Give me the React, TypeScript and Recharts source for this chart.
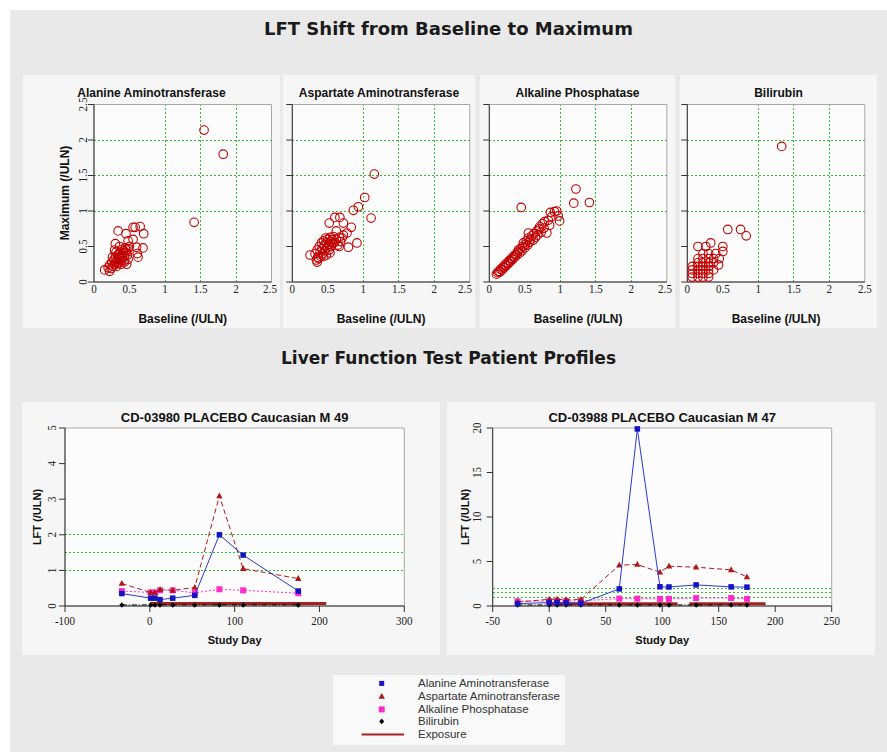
import React from 'react';
import {
  ScatterChart, Scatter, XAxis, YAxis, CartesianGrid, ReferenceLine, ReferenceArea,
} from 'recharts';

// ---------- LFT shift: [baseline, maximum] in /ULN ----------
const altShift = [
  [1.55, 2.14], [1.82, 1.8], [1.41, 0.84],
  [0.34, 0.72], [0.45, 0.68], [0.55, 0.77], [0.58, 0.77], [0.65, 0.78], [0.7, 0.68],
  [0.3, 0.54], [0.48, 0.58], [0.55, 0.6], [0.6, 0.49], [0.69, 0.48], [0.62, 0.35],
  [0.61, 0.4], [0.46, 0.25], [0.42, 0.3], [0.15, 0.17], [0.22, 0.15], [0.29, 0.45],
  [0.36, 0.5], [0.4, 0.46], [0.2, 0.2], [0.22, 0.24], [0.24, 0.19], [0.25, 0.28],
  [0.27, 0.22], [0.28, 0.31], [0.29, 0.25], [0.3, 0.35], [0.31, 0.28], [0.32, 0.22],
  [0.33, 0.32], [0.34, 0.38], [0.35, 0.27], [0.36, 0.34], [0.37, 0.42], [0.38, 0.3],
  [0.39, 0.37], [0.4, 0.33], [0.41, 0.4], [0.42, 0.44], [0.43, 0.36], [0.44, 0.48],
  [0.45, 0.41], [0.46, 0.45], [0.47, 0.38], [0.48, 0.47], [0.5, 0.5], [0.26, 0.35],
  [0.33, 0.26], [0.38, 0.25], [0.35, 0.4], [0.31, 0.42], [0.43, 0.28], [0.48, 0.32],
];
const astShift = [
  [1.155, 1.52], [1.02, 1.19], [0.93, 1.06], [0.86, 1.01], [1.11, 0.9],
  [0.6, 0.91], [0.67, 0.91], [0.52, 0.83], [0.72, 0.83], [0.83, 0.77], [0.77, 0.69],
  [0.91, 0.55], [0.79, 0.49], [0.66, 0.5], [0.25, 0.38], [0.34, 0.31], [0.35, 0.28],
  [0.7, 0.62], [0.62, 0.72], [0.32, 0.4], [0.35, 0.45], [0.36, 0.35], [0.38, 0.5],
  [0.39, 0.42], [0.4, 0.36], [0.41, 0.55], [0.42, 0.47], [0.43, 0.4], [0.44, 0.58],
  [0.45, 0.52], [0.46, 0.44], [0.47, 0.62], [0.48, 0.55], [0.49, 0.48], [0.5, 0.6],
  [0.51, 0.53], [0.52, 0.45], [0.53, 0.63], [0.54, 0.57], [0.55, 0.5], [0.56, 0.6],
  [0.57, 0.54], [0.58, 0.64], [0.6, 0.56], [0.62, 0.6], [0.64, 0.52], [0.66, 0.63],
  [0.68, 0.57], [0.72, 0.66], [0.44, 0.36], [0.48, 0.38], [0.37, 0.33], [0.53, 0.41],
];
const alpShift = [
  [0.45, 1.05], [1.22, 1.31], [1.19, 1.11], [1.41, 1.12],
  [0.1, 0.11], [0.12, 0.13], [0.13, 0.15], [0.15, 0.14], [0.16, 0.18], [0.18, 0.17],
  [0.19, 0.21], [0.21, 0.2], [0.22, 0.24], [0.24, 0.23], [0.25, 0.27], [0.27, 0.26],
  [0.28, 0.3], [0.3, 0.29], [0.31, 0.33], [0.33, 0.32], [0.34, 0.36], [0.36, 0.35],
  [0.37, 0.39], [0.39, 0.38], [0.4, 0.42], [0.41, 0.45], [0.43, 0.41], [0.44, 0.47],
  [0.46, 0.44], [0.47, 0.5], [0.48, 0.55], [0.5, 0.48], [0.51, 0.53], [0.52, 0.58],
  [0.54, 0.52], [0.55, 0.62], [0.55, 0.69], [0.57, 0.56], [0.58, 0.6], [0.6, 0.65],
  [0.62, 0.59], [0.63, 0.68], [0.65, 0.63], [0.67, 0.72], [0.68, 0.66], [0.7, 0.75],
  [0.71, 0.78], [0.73, 0.7], [0.75, 0.82], [0.77, 0.76], [0.78, 0.85], [0.81, 0.69],
  [0.83, 0.87], [0.85, 0.8], [0.86, 0.98], [0.88, 0.92], [0.92, 0.99], [0.95, 1.0],
  [0.99, 0.86], [0.97, 0.93],
];
const biliShift = [
  [0.57, 0.74], [0.75, 0.74], [0.83, 0.65], [1.33, 1.91],
  [0.07, 0.07], [0.07, 0.12], [0.07, 0.17], [0.07, 0.22], [0.15, 0.07], [0.15, 0.12],
  [0.15, 0.17], [0.15, 0.22], [0.15, 0.27], [0.15, 0.33], [0.22, 0.07], [0.22, 0.12],
  [0.22, 0.17], [0.22, 0.22], [0.22, 0.27], [0.22, 0.33], [0.22, 0.4], [0.3, 0.07],
  [0.3, 0.12], [0.3, 0.17], [0.3, 0.22], [0.3, 0.27], [0.3, 0.33], [0.3, 0.4],
  [0.37, 0.17], [0.37, 0.27], [0.37, 0.33], [0.4, 0.4], [0.44, 0.24], [0.15, 0.5],
  [0.26, 0.5], [0.33, 0.55], [0.5, 0.5], [0.5, 0.43], [0.45, 0.33],
];
const shiftTicks = [0, 0.5, 1, 1.5, 2, 2.5];
const refLevels = [1, 1.5, 2];

// ---------- patient profiles ----------
const p1Days = [-33, 1, 6, 12, 27, 53, 82, 110, 175];
const p1Alt = [0.35, 0.22, 0.22, 0.18, 0.22, 0.3, 2.0, 1.43, 0.42];
const p1Ast = [0.63, 0.38, 0.38, 0.46, 0.44, 0.52, 3.09, 1.05, 0.77];
const p1Alp = [0.42, 0.38, 0.38, 0.44, 0.44, 0.37, 0.47, 0.44, 0.36];
const p1Bili = [0.03, 0.03, 0.03, 0.03, 0.03, 0.03, 0.03, 0.03, 0.03];
const p1Exposure = [[0, 208]];
const p1ExposureLevel = 0.07;

const p2Days = [-28, 0, 7, 15, 28, 62, 78, 98, 106, 130, 161, 175];
const p2Alt = [0.27, 0.38, 0.38, 0.36, 0.3, 1.92, 19.9, 2.16, 2.14, 2.37, 2.15, 2.12];
const p2Ast = [0.45, 0.75, 0.75, 0.7, 0.72, 4.59, 4.66, 3.8, 4.47, 4.36, 4.06, 3.27];
const p2Alp = [0.53, 0.55, 0.57, 0.57, 0.57, 0.83, 0.83, 0.8, 0.8, 0.9, 0.9, 0.8];
const p2Bili = [0.12, 0.12, 0.12, 0.12, 0.12, 0.12, 0.12, 0.12, 0.12, 0.12, 0.12, 0.12];
const p2Exposure = [[0, 113.5], [124, 191.5]];
const p2ExposureLevel = 0.26;

// ---------- styles ----------
const SANS = '"Liberation Sans", Arial, sans-serif';
const SERIF = '"Liberation Serif", "DejaVu Serif", serif';
const OUTER = '#e9e9e9';
const PANEL = '#f6f6f6';
const PLOT_BG = '#fcfcfc';
const FRAME = '#a8a8a8';
const AXIS = { stroke: '#333' };
const GREEN = '#2cc42c';
const RING = '#c00000';
const ALT_C = '#1414c0';
const AST_C = '#b01818';
const ALP_C = '#ff2ccc';
const EXPO_C = '#a52020';

const XTick = (p: any) => (
  <g transform={`translate(${p.x},${p.y})`}>
    <text transform="scale(0.85,1)" textAnchor="middle" dy="0.75em" fontFamily={SERIF} fontSize={13} fill="#222">
      {p.payload.value}
    </text>
  </g>
);
const YTick = (p: any) => (
  <g transform={`translate(${p.x},${p.y}) rotate(-90)`}>
    <text transform="scale(0.85,1)" textAnchor="middle" fontFamily={SERIF} fontSize={13} fill="#222">
      {p.payload.value}
    </text>
  </g>
);
const NoTick = () => <g />;

// dotted green guide line, snapped to the pixel grid
const GuideLine = (p: any) => (
  <line x1={p.x1} y1={p.y1} x2={p.x2} y2={p.y2} stroke={GREEN} strokeWidth={1} strokeDasharray="2 2" shapeRendering="crispEdges" />
);

const Ring = (p: any) => <circle cx={p.cx} cy={p.cy} r={4.3} fill="none" stroke={RING} strokeWidth={1.1} />;
const square = (size: number, color: string) => (p: any) => (
  <rect x={p.cx - size / 2} y={p.cy - size / 2} width={size} height={size} fill={color} />
);
const triangle = (color: string) => (p: any) => (
  <polygon points={`${p.cx},${p.cy - 3.5} ${p.cx + 3.2},${p.cy + 2.3} ${p.cx - 3.2},${p.cy + 2.3}`} fill={color} />
);
const diamond = (color: string) => (p: any) => (
  <polygon points={`${p.cx},${p.cy - 2.8} ${p.cx + 2.5},${p.cy} ${p.cx},${p.cy + 2.8} ${p.cx - 2.5},${p.cy}`} fill={color} />
);

const rotLabel = (x: number, y: number, size: number): React.CSSProperties => ({
  position: 'absolute', left: x, top: y, transform: 'translate(-50%,-50%) rotate(-90deg)',
  whiteSpace: 'nowrap', font: `bold ${size}px ${SANS}`, color: '#111',
});

function ShiftPanel({ title, data, left, width, axisW, first }: any) {
  const pts = data.map(([x, y]: number[]) => ({ x, y }));
  const right = width - axisW - 177.5;
  return (
    <div style={{ position: 'absolute', left, top: 75, width, height: 253, background: PANEL }}>
      <div style={{ position: 'absolute', left: 0, top: 11, width, textAlign: 'center', font: `bold 12px ${SANS}`, color: '#111' }}>
        {title}
      </div>
      {first && <div style={rotLabel(42, 118, 12)}>Maximum (/ULN)</div>}
      <ScatterChart width={width} height={253} margin={{ top: 29.5, right, bottom: 0, left: 0 }}>
        <CartesianGrid horizontal={false} vertical={false} fill={PLOT_BG} />
        <ReferenceArea x1={0} x2={2.5} y1={0} y2={2.5} fill="none" stroke={FRAME} />
        {refLevels.map((v) => (
          <ReferenceLine key={'vx' + v} x={v} shape={GuideLine} />
        ))}
        {refLevels.map((v) => (
          <ReferenceLine key={'hy' + v} y={v} shape={GuideLine} />
        ))}
        <XAxis
          type="number" dataKey="x" domain={[0, 2.5]} ticks={shiftTicks} height={46}
          tickSize={0} tickMargin={1} tick={XTick} axisLine={AXIS} tickLine={false}
          label={{ value: 'Baseline (/ULN)', position: 'insideBottom', offset: 5, fontSize: 12, fontWeight: 'bold', fontFamily: SANS, fill: '#111' }}
        />
        <YAxis
          type="number" dataKey="y" domain={[0, 2.5]} ticks={shiftTicks} width={axisW}
          tickSize={6} tickMargin={1} tick={first ? YTick : NoTick} axisLine={AXIS} tickLine={AXIS}
        />
        <Scatter data={pts} shape={Ring} isAnimationActive={false} />
      </ScatterChart>
    </div>
  );
}

function ProfilePanel(props: any) {
  const {
    left, width, title, plotLeft, plotWidth, xDomain, xTicks, yDomain, yTicks, yTickMargin, yLabelX,
    days, alt, ast, alp, bili, exposure, exposureLevel,
  } = props;
  const plotTop = 26;
  const plotHeight = 178;
  const mk = (vals: number[]) => days.map((d: number, i: number) => ({ x: d, y: vals[i] }));
  const series = [
    { key: 'bili', vals: bili, color: '#000', dash: '5 2 1 2', shape: diamond('#000') },
    { key: 'alp', vals: alp, color: ALP_C, dash: '2 2', shape: square(6, ALP_C) },
    { key: 'ast', vals: ast, color: AST_C, dash: '5 3', shape: triangle(AST_C) },
    { key: 'alt', vals: alt, color: '#2a3ad0', dash: undefined, shape: square(5.5, ALT_C) },
  ];
  return (
    <div style={{ position: 'absolute', left, top: 402, width, height: 253, background: PANEL }}>
      <div style={{ position: 'absolute', left: plotLeft, top: 8, width: plotWidth, textAlign: 'center', font: `bold 13px ${SANS}`, color: '#111' }}>
        {title}
      </div>
      <div style={rotLabel(yLabelX, plotTop + plotHeight / 2, 11)}>LFT (/ULN)</div>
      <ScatterChart width={width} height={253} margin={{ top: plotTop, right: width - plotLeft - plotWidth, bottom: 0, left: 0 }}>
        <CartesianGrid horizontal={false} vertical={false} fill={PLOT_BG} />
        <ReferenceArea x1={xDomain[0]} x2={xDomain[1]} y1={yDomain[0]} y2={yDomain[1]} fill="none" stroke={FRAME} />
        {refLevels.map((v) => (
          <ReferenceLine key={v} y={v} shape={GuideLine} />
        ))}
        <XAxis
          type="number" dataKey="x" domain={xDomain} ticks={xTicks} height={253 - plotTop - plotHeight}
          tickSize={6} tickMargin={3} tick={XTick} axisLine={AXIS} tickLine={AXIS}
          label={{ value: 'Study Day', position: 'insideBottom', offset: 11, fontSize: 11, fontWeight: 'bold', fontFamily: SANS, fill: '#111' }}
        />
        <YAxis
          type="number" dataKey="y" domain={yDomain} ticks={yTicks} width={plotLeft}
          tickSize={6} tickMargin={yTickMargin} tick={YTick} axisLine={AXIS} tickLine={AXIS}
        />
        {exposure.map(([s, e]: number[], i: number) => (
          <Scatter
            key={'exp' + i}
            data={[{ x: s, y: exposureLevel }, { x: e, y: exposureLevel }]}
            line={{ stroke: EXPO_C, strokeWidth: 3 }}
            shape={NoTick}
            isAnimationActive={false}
          />
        ))}
        {series.map((s) => (
          <Scatter
            key={s.key}
            data={mk(s.vals)}
            line={{ stroke: s.color, strokeWidth: 1, strokeDasharray: s.dash }}
            shape={s.shape}
            isAnimationActive={false}
          />
        ))}
      </ScatterChart>
    </div>
  );
}

const legendItems = [
  { name: 'Alanine Aminotransferase', kind: 'alt' },
  { name: 'Aspartate Aminotransferase', kind: 'ast' },
  { name: 'Alkaline Phosphatase', kind: 'alp' },
  { name: 'Bilirubin', kind: 'bili' },
  { name: 'Exposure', kind: 'expo' },
];

function LegendMark({ kind }: { kind: string }) {
  const c = { cx: 48.7, cy: 6.4 };
  return (
    <svg width={85} height={12.8} style={{ display: 'block' }}>
      {kind === 'alt' && square(5, ALT_C)(c)}
      {kind === 'ast' && triangle(AST_C)(c)}
      {kind === 'alp' && square(6, ALP_C)(c)}
      {kind === 'bili' && diamond('#000')(c)}
      {kind === 'expo' && <line x1={28.7} x2={71} y1={6.4} y2={6.4} stroke={EXPO_C} strokeWidth={2} />}
    </svg>
  );
}

function BottomLegend() {
  return (
    <div style={{ position: 'absolute', left: 333, top: 675, width: 232, height: 70, background: '#f9f9f9', paddingTop: 2, boxSizing: 'border-box' }}>
      {legendItems.map((it) => (
        <div key={it.name} style={{ display: 'flex', alignItems: 'center', height: 12.8 }}>
          <LegendMark kind={it.kind} />
          <span style={{ font: `11.5px ${SANS}`, color: '#333', lineHeight: '12.8px', whiteSpace: 'nowrap' }}>{it.name}</span>
        </div>
      ))}
    </div>
  );
}

const bigTitle = (top: number, size: number): React.CSSProperties => ({
  position: 'absolute', left: 10, top, width: 877, textAlign: 'center', lineHeight: '20px',
  font: `bold ${size}px "DejaVu Sans", Verdana, sans-serif`, color: '#1a1a1a',
});

export default function App() {
  return (
    <div style={{ position: 'absolute', left: 0, top: 0, width: 887, height: 752, overflow: 'hidden', background: '#fff' }}>
      <div style={{ position: 'absolute', left: 10, top: 10, width: 877, height: 742, background: OUTER }} />
      <div style={bigTitle(18, 18)}>LFT Shift from Baseline to Maximum</div>
      <ShiftPanel title="Alanine Aminotransferase" data={altShift} left={23} width={257} axisW={71} first />
      <ShiftPanel title="Aspartate Aminotransferase" data={astShift} left={283} width={192} axisW={9.3} />
      <ShiftPanel title="Alkaline Phosphatase" data={alpShift} left={480} width={195} axisW={9.3} />
      <ShiftPanel title="Bilirubin" data={biliShift} left={680} width={197} axisW={7.3} />
      <div style={bigTitle(348, 17)}>Liver Function Test Patient Profiles</div>
      <ProfilePanel
        left={22} width={418} title="CD-03980 PLACEBO Caucasian M 49"
        plotLeft={43} plotWidth={339.3} xDomain={[-100, 300]} xTicks={[-100, 0, 100, 200, 300]}
        yDomain={[0, 5]} yTicks={[0, 1, 2, 3, 4, 5]} yTickMargin={3} yLabelX={15.3}
        days={p1Days} alt={p1Alt} ast={p1Ast} alp={p1Alp} bili={p1Bili}
        exposure={p1Exposure} exposureLevel={p1ExposureLevel}
      />
      <ProfilePanel
        left={447} width={428} title="CD-03988 PLACEBO Caucasian M 47"
        plotLeft={45.7} plotWidth={339} xDomain={[-50, 250]} xTicks={[-50, 0, 50, 100, 150, 200, 250]}
        yDomain={[0, 20]} yTicks={[0, 5, 10, 15, 20]} yTickMargin={6} yLabelX={18}
        days={p2Days} alt={p2Alt} ast={p2Ast} alp={p2Alp} bili={p2Bili}
        exposure={p2Exposure} exposureLevel={p2ExposureLevel}
      />
      <BottomLegend />
    </div>
  );
}
